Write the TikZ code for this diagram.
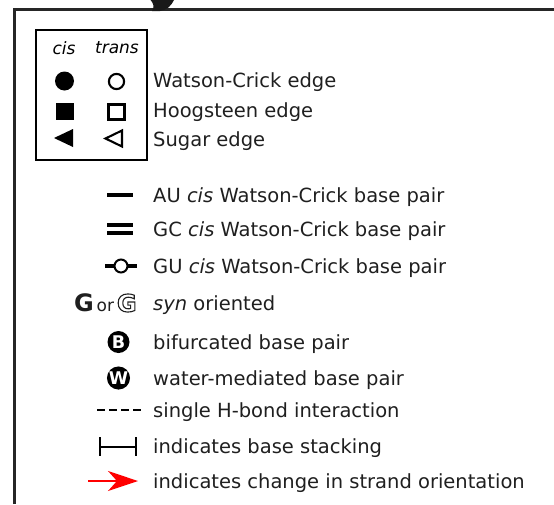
\documentclass[tikz,border=0pt]{standalone}
\usepackage{fontspec}
\setmainfont{DejaVu Sans}
\usetikzlibrary{arrows.meta}

% outlined (hollow) glyphs via the PDF text rendering mode
\newcommand{\hollowtext}[1]{\special{pdf:literal direct 1 Tr 1.1 w}#1\special{pdf:literal direct 0 Tr}}

\tikzset{
  lbl/.style={anchor=west, inner sep=0pt, yshift=-2pt, text=black!88,
              font=\fontsize{19.5}{22}\selectfont},
  hdr/.style={inner sep=0pt, font=\fontsize{17}{19}\selectfont\itshape},
  sym/.style={line width=2.1pt},
  bond/.style={line width=3.6pt},
  badge/.style={circle, fill=black, inner sep=0pt, minimum size=22pt,
                text=white, font=\fontsize{17.5}{17.5}\selectfont\bfseries},
}

\begin{document}
\begin{tikzpicture}[x=1pt, y=-1pt]
  \useasboundingbox (0,0) rectangle (554,504);
  \fill[white] (0,0) rectangle (554,504);

  % frame of the legend panel
  \draw[line width=3pt, color=black!85] (14,504) -- (14,9.5) -- (554,9.5);
  % tail of the heading glyph reaching into the frame
  \fill[black!90] (150.5,0) -- (174,0) .. controls (171,6) and (167,10) .. (160,11)
        -- (152,11) .. controls (154.5,7) and (153.5,3) .. (150.5,0) -- cycle;

  % ---- edge key box ----
  \draw[line width=1.7pt] (36,30) rectangle (147,160);
  \node[hdr] (hcis)   at (64,48)  {cis};
  \node[hdr] (htrans) at (117,48) {trans};

  \fill (64.5,81) circle (9.5pt);
  \draw[sym] (116.5,81.5) circle (7.6pt);
  \fill (55.5,102.5) rectangle (73.5,120);
  \draw[sym] (108.5,104.5) rectangle (124.5,119.5);
  \fill (54,138) -- (73,129) -- (73,147) -- cycle;
  \draw[sym, line join=miter] (105.5,138.5) -- (122,130.5) -- (122,146.5) -- cycle;

  \node[lbl] (wc)   at (153,80)  {Watson-Crick edge};
  \node[lbl] (hoog) at (153,110) {Hoogsteen edge};
  \node[lbl] (sug)  at (153,139) {Sugar edge};

  % ---- pair and interaction key ----
  \draw[bond] (107,195) -- (133,195);
  \node[lbl] (au) at (153,195) {AU \textit{cis} Watson-Crick base pair};

  \draw[bond] (107,225) -- (133,225);
  \draw[bond] (107,233) -- (133,233);
  \node[lbl] (gc) at (153,229) {GC \textit{cis} Watson-Crick base pair};

  \draw[bond] (105,266) -- (114,266);
  \draw[bond] (128,266) -- (137,266);
  \draw[line width=2pt] (121,266) circle (6.5pt);
  \node[lbl] (gu) at (153,266) {GU \textit{cis} Watson-Crick base pair};

  \node[anchor=west, inner sep=0pt, text=black!88] (gsyn) at (74,303)
    {\fontsize{24}{25}\selectfont\bfseries G\fontsize{17}{18}\mdseries\,or\,\fontsize{24}{25}\bfseries\hollowtext{G}};
  \node[lbl] (syn) at (153,303) {\textit{syn} oriented};

  \node[badge] (bb) at (118.5,342) {B};
  \node[lbl] (bif) at (153,342) {bifurcated base pair};

  \node[badge] (ww) at (118.5,378) {W};
  \node[lbl] (wat) at (153,378) {water-mediated base pair};

  \draw[line width=2pt, dash pattern=on 8pt off 4pt] (97,410) -- (141,410);
  \node[lbl] (hb) at (153,410) {single H-bond interaction};

  \draw[line width=2.2pt] (100,437) -- (100,456);
  \draw[line width=2.2pt] (136,437) -- (136,456);
  \draw[line width=2pt] (100,446.5) -- (136,446.5);
  \node[lbl] (stk) at (153,446) {indicates base stacking};

  \draw[red, line width=1.5pt, -{Stealth[length=30pt, width=20pt, inset=9pt]}] (88,481) -- (138,481);
  \node[lbl] (chg) at (153,481) {indicates change in strand orientation};
\end{tikzpicture}
\end{document}
